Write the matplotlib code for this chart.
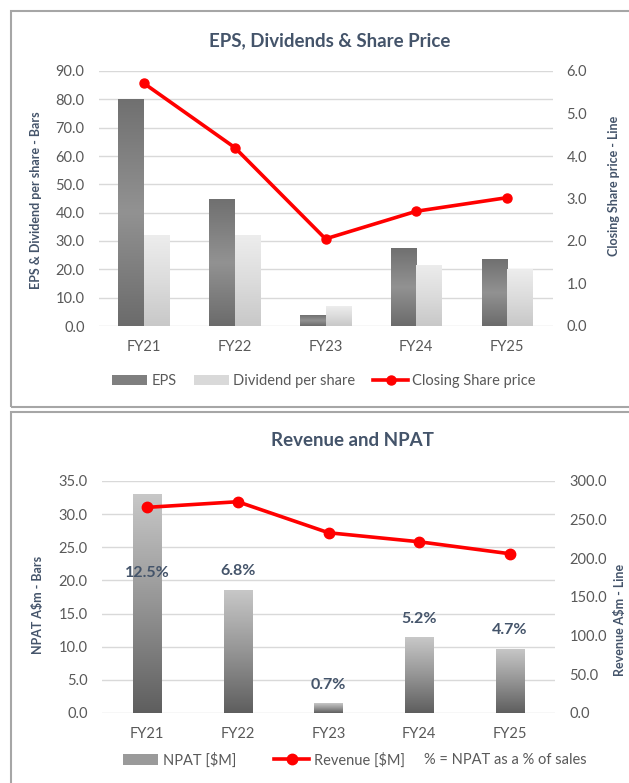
"""EPS / Dividends / Share price と Revenue / NPAT の2段チャート."""

import matplotlib

matplotlib.use("Agg")
import matplotlib.pyplot as plt  # noqa: E402
import numpy as np  # noqa: E402
from matplotlib.colors import LinearSegmentedColormap  # noqa: E402
from matplotlib.lines import Line2D  # noqa: E402
from matplotlib.patches import Patch, Rectangle  # noqa: E402

# ---- data ----
years = ["FY21", "FY22", "FY23", "FY24", "FY25"]
eps = [80.2, 44.8, 3.8, 27.4, 23.6]
dividend = [32.0, 32.0, 7.0, 21.7, 20.0]
share_price = [5.71, 4.20, 2.05, 2.70, 3.02]

npat = [33.1, 18.6, 1.5, 11.4, 9.7]
revenue = [265.9, 273.2, 233.1, 221.4, 205.9]
npat_pct = ["12.5%", "6.8%", "0.7%", "5.2%", "4.7%"]

eps_ticks = [0, 10, 20, 30, 40, 50, 60, 70, 80, 90]
price_ticks = [0, 1, 2, 3, 4, 5, 6]
npat_ticks = [0, 5, 10, 15, 20, 25, 30, 35]
rev_ticks = [0, 50, 100, 150, 200, 250, 300]

# ---- style ----
plt.rcParams["font.family"] = ["Lato", "DejaVu Sans"]
TITLE_C = "#44546A"
TICK_C = "#595959"
GRID_C = "#D9D9D9"
RED = "#FF0000"
FS = 10.5

W, H = 629, 783


def px_axes(fig, left, right, top, bottom):
    """ピクセル座標(上が0)で axes を作る."""
    return fig.add_axes([left / W, 1 - bottom / H, (right - left) / W, (bottom - top) / H])


def gradient_bars(ax, bars, colors):
    """各バーを縦グラデーションで塗る（上→下の順に colors）."""
    cmap = LinearSegmentedColormap.from_list("g", colors)
    grad = np.linspace(0, 1, 256).reshape(-1, 1)
    for b in bars:
        x0, y0 = b.get_x(), b.get_y()
        im = ax.imshow(grad, cmap=cmap, aspect="auto", interpolation="bilinear",
                       extent=(x0, x0 + b.get_width(), y0, y0 + b.get_height()),
                       origin="upper", zorder=2)
        im.set_clip_path(b)
        b.set_facecolor("none")


def style_axis(ax, ticks, fmt="{:.1f}"):
    for s in ax.spines.values():
        s.set_visible(False)
    ax.set_yticks(ticks)
    ax.set_yticklabels([fmt.format(t) for t in ticks])
    ax.tick_params(length=0, labelsize=FS, colors=TICK_C, pad=10)


fig = plt.figure(figsize=(W / 100, H / 100), dpi=100)

# パネル枠
for (x0, y0, x1, y1) in [(11, 11, 640, 407), (11, 412, 640, 800)]:
    fig.patches.append(Rectangle((x0 / W, 1 - y1 / H), (x1 - x0) / W, (y1 - y0) / H,
                                 transform=fig.transFigure, fill=False,
                                 edgecolor="#A6A6A6", linewidth=1.5))

x = np.arange(len(years))

# ---- 上段: EPS, Dividends & Share Price ----
ax1 = px_axes(fig, 98.5, 552.5, 71, 326)
ax1.set_axisbelow(True)
ax1.yaxis.grid(True, color=GRID_C, linewidth=1)
b_eps = ax1.bar(x - 0.14, eps, width=0.28, zorder=2)
b_div = ax1.bar(x + 0.14, dividend, width=0.28, zorder=2)
gradient_bars(ax1, b_eps, ["#707070", "#929292", "#6B6B6B"])
gradient_bars(ax1, b_div, ["#EDEDED", "#DCDCDC", "#C8C8C8"])
ax1.set_xlim(-0.5, len(years) - 0.5)
ax1.set_ylim(0, 90)
ax1.set_xticks(x)
ax1.set_xticklabels(years)
style_axis(ax1, eps_ticks)

ax1r = ax1.twinx()
ax1r.plot(x, share_price, color=RED, linewidth=2.6, marker="o", markersize=6.5, zorder=3)
ax1r.set_ylim(0, 6)
style_axis(ax1r, price_ticks)
ax1r.set_xlim(-0.5, len(years) - 0.5)

fig.text(330 / W, 1 - 41 / H, "EPS, Dividends & Share Price", ha="center", va="center",
         fontsize=13.5, fontweight="bold", color=TITLE_C)
fig.text(36 / W, 1 - 200 / H, "EPS & Dividend per share - Bars", rotation=90,
         ha="center", va="center", fontsize=9, fontweight="bold", color=TITLE_C)
fig.text(614 / W, 1 - 186 / H, "Closing Share price - Line", rotation=90,
         ha="center", va="center", fontsize=9, fontweight="bold", color=TITLE_C)

h_top = [Patch(facecolor="#7F7F7F", edgecolor="none"),
         Patch(facecolor="#D9D9D9", edgecolor="none"),
         Line2D([], [], color=RED, linewidth=2.6, marker="o", markersize=6.5)]
fig.legend(h_top, ["EPS", "Dividend per share", "Closing Share price"],
           loc="center", bbox_to_anchor=(324 / W, 1 - 381 / H), ncol=3, frameon=False,
           fontsize=FS, labelcolor=TICK_C, handlelength=2.4, handletextpad=0.3,
           columnspacing=1.2, handleheight=0.7)

# ---- 下段: Revenue and NPAT ----
ax2 = px_axes(fig, 101.6, 555.4, 481, 713)
ax2.set_axisbelow(True)
ax2.yaxis.grid(True, color=GRID_C, linewidth=1)
b_npat = ax2.bar(x, npat, width=0.31, zorder=2)
gradient_bars(ax2, b_npat, ["#C8C8C8", "#959595", "#5E5E5E"])
ax2.set_xlim(-0.5, len(years) - 0.5)
ax2.set_ylim(0, 35)
ax2.set_xticks(x)
ax2.set_xticklabels(years)
style_axis(ax2, npat_ticks)

for xi, v, lab in zip(x, npat, npat_pct):
    # FY21 は棒の中に置かれている
    y = v + 2.75 if v < 25 else 21.1
    ax2.text(xi, y, lab, ha="center", va="center", fontsize=11.5, fontweight="bold",
             color=TITLE_C, zorder=4)

ax2r = ax2.twinx()
ax2r.plot(x, revenue, color=RED, linewidth=2.6, marker="o", markersize=7.5, zorder=3)
ax2r.set_ylim(0, 300)
style_axis(ax2r, rev_ticks)
ax2r.set_xlim(-0.5, len(years) - 0.5)

fig.text(352 / W, 1 - 440 / H, "Revenue and NPAT", ha="center", va="center",
         fontsize=13.5, fontweight="bold", color=TITLE_C)
fig.text(38 / W, 1 - 605 / H, "NPAT A$m - Bars", rotation=90,
         ha="center", va="center", fontsize=9, fontweight="bold", color=TITLE_C)
fig.text(620 / W, 1 - 620 / H, "Revenue A$m - Line", rotation=90,
         ha="center", va="center", fontsize=9, fontweight="bold", color=TITLE_C)

h_bot = [Patch(facecolor="#9A9A9A", edgecolor="none"),
         Line2D([], [], color=RED, linewidth=2.6, marker="o", markersize=7.5)]
fig.legend(h_bot, ["NPAT [$M]", "Revenue [$M]"],
           loc="center", bbox_to_anchor=(264 / W, 1 - 760 / H), ncol=2, frameon=False,
           fontsize=FS, labelcolor=TICK_C, handlelength=2.4, handletextpad=0.3,
           columnspacing=2.6, handleheight=0.7)
fig.text(505 / W, 1 - 760 / H, "% = NPAT as a % of sales", ha="center", va="center",
         fontsize=FS, color=TICK_C)

fig.savefig("out.png", dpi=100)
